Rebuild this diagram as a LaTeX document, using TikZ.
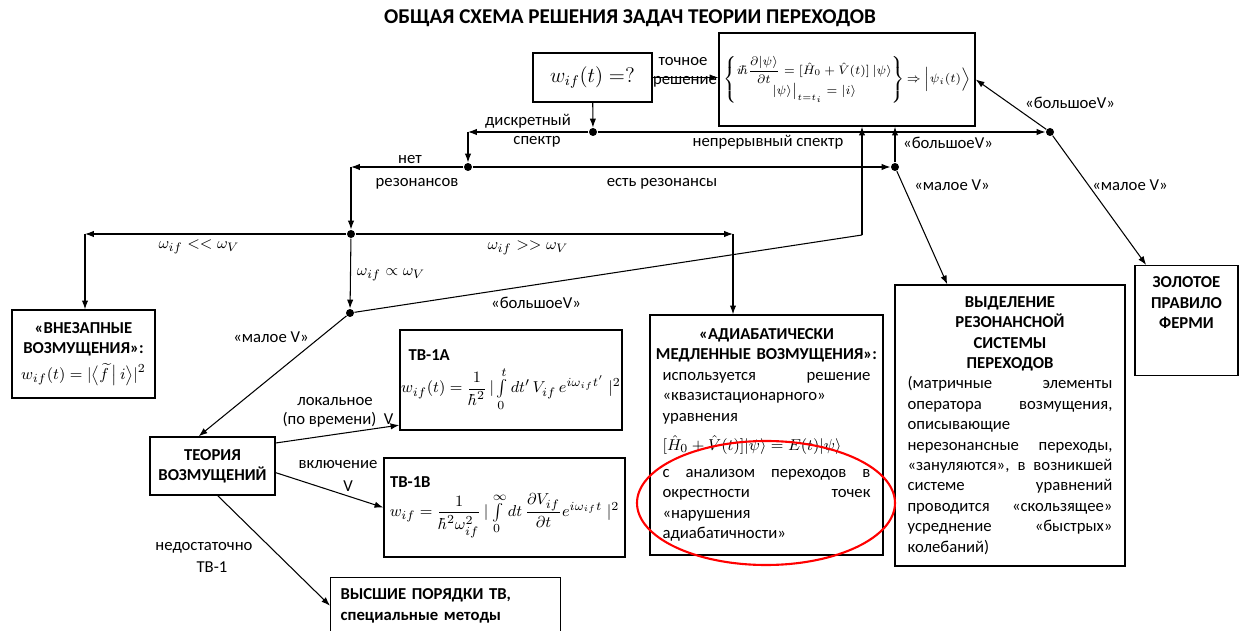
\documentclass[tikz,border=0pt]{standalone}
\usepackage{amsmath,amssymb}
\usepackage{fontspec}
\setmainfont{Carlito}
\usetikzlibrary{arrows.meta}
\newcommand\jrow[1]{\makebox[\linewidth][s]{\spaceskip=0.3333em plus 1fil\relax #1}}
\newcommand\crow[1]{\makebox[\linewidth][c]{#1}}

\begin{document}
\fontsize{9.5}{11.6}\selectfont
\begin{tikzpicture}[x=0.02cm,y=-0.02cm,line width=0.6pt,
  >={Latex[length=5pt,width=3.6pt]},
  box/.style={draw,line width=0.8pt,inner sep=0pt},
  dot/.style={circle,fill,inner sep=0pt,minimum size=0.16cm}]
\useasboundingbox (0,0) rectangle (1248,631);
\path
(630,18) node[font=\bfseries\fontsize{12}{14}\selectfont] (title) {ОБЩАЯ СХЕМА РЕШЕНИЯ ЗАДАЧ ТЕОРИИ ПЕРЕХОДОВ}
(592.5,77.5) node[box,minimum width=2.38cm,minimum height=0.98cm,font=\large] (wif) {$w_{if}(t)=?$}
(847,79.5) node[box,minimum width=5.12cm,minimum height=1.86cm,font=\fontsize{7.4}{9}\selectfont] (schr) {$\left\{\begin{array}{@{}c@{}} i\hbar\dfrac{\partial|\psi\rangle}{\partial t}=[\hat H_0+\hat V(t)]\,|\psi\rangle\\[1pt] |\psi\rangle\big|_{t=t_i}=|i\rangle\end{array}\right\}\!\Rightarrow\Bigl|\psi_i(t)\Bigr\rangle$}
(593,132) node[dot] (dspec) {}
(1050,132) node[dot] (dcont) {}
(468,167) node[dot] (dres) {}
(895,167) node[dot] (dyes) {}
(351,234) node[dot] (domega) {}
(350,313) node[dot] (dprop) {}
(468,132) coordinate (kdisc)
(351,167) coordinate (kno)
(85,234) coordinate (ksud)
(733,234) coordinate (kadia)
(862,235) coordinate (kbig)
(83.5,354) node[box,minimum width=2.86cm,minimum height=1.76cm,align=center] (sudden) {\textbf{«ВНЕЗАПНЫЕ}\\\textbf{ВОЗМУЩЕНИЯ»:}\\[3pt]$w_{if}(t)=|\bigl\langle\widetilde{f}\,\big|\,i\bigr\rangle|^2$}
(212.5,466) node[box,minimum width=2.5cm,minimum height=1.16cm,align=center,font=\bfseries] (pt) {ТЕОРИЯ\\ВОЗМУЩЕНИЙ}
(511,380) node[box,minimum width=4.44cm,minimum height=2cm,text width=4.1cm,align=left] (tva) {\textbf{ТВ-1А}\\[3pt]\crow{$w_{if}(t)=\dfrac{1}{\hbar^2}\,|\int\limits_0^t dt'\,V_{if}\,e^{i\omega_{if}t'}\;|^2$}}
(504.5,507.5) node[box,minimum width=4.82cm,minimum height=1.98cm,text width=4.58cm,align=left] (tvb) {\textbf{ТВ-1В}\\[2pt]\crow{$w_{if}=\dfrac{1}{\hbar^2\omega_{if}^2}\,|\int\limits_0^\infty dt\,\dfrac{\partial V_{if}}{\partial t}e^{i\omega_{if}t}\;|^2$}}
(330,577) node[box,anchor=north west,minimum width=4.6cm,minimum height=1.12cm,text width=4.2cm,align=left,font=\bfseries] (high) {ВЫСШИЕ ПОРЯДКИ ТВ,\\специальные методы}
(766.5,435) node[box,minimum width=4.66cm,minimum height=4.8cm,text width=4.16cm,align=left] (adia) {\crow{\bfseries «АДИАБАТИЧЕСКИ}\\\crow{\bfseries МЕДЛЕННЫЕ ВОЗМУЩЕНИЯ»:}\\\jrow{используется решение}\\«квазистационарного»\\уравнения\\[5pt]$[\hat H_0+\hat V(t)]|\psi\rangle=E(t)|\psi\rangle$\\[4pt]\jrow{с анализом переходов в}\\\jrow{окрестности точек}\\«нарушения\\адиабатичности»}
(1010,425.5) node[box,minimum width=4.6cm,minimum height=5.62cm,text width=4.1cm,align=left] (resv) {\crow{\bfseries ВЫДЕЛЕНИЕ}\\\crow{\bfseries РЕЗОНАНСНОЙ}\\\crow{\bfseries СИСТЕМЫ}\\\crow{\bfseries ПЕРЕХОДОВ}\\\jrow{(матричные элементы}\\\jrow{оператора возмущения,}\\описывающие\\\jrow{нерезонансные переходы,}\\\jrow{«зануляются», в возникшей}\\\jrow{системе уравнений}\\\jrow{проводится «скользящее»}\\\jrow{усреднение «быстрых»}\\колебаний)}
(1186.5,265) node[box,anchor=north] (gold) {\parbox[t][2.2cm][t]{2.06cm}{\vspace*{0.22cm}\centering\bfseries ЗОЛОТОЕ\\ПРАВИЛО\\ФЕРМИ}}
(683,62) node (lexact) {точное}
(685,82) node (lsol) {решение}
(528,121) node (ldisc) {дискретный}
(537,142) node (lspec) {спектр}
(768,142) node (lcont) {непрерывный спектр}
(410,160) node (lno) {нет}
(417,184) node (lres) {резонансов}
(662,184) node (lyes) {есть резонансы}
(948,143) node (lbig1) {«большоеV»}
(952,185) node (lsmall1) {«малое V»}
(1070,103) node (lbig2) {«большоеV»}
(1130,185) node (lsmall2) {«малое V»}
(199,247) node (lll) {$\omega_{if}\;{<}{<}\;\omega_V$}
(528,248) node (lgg) {$\omega_{if}\;{>}{>}\;\omega_V$}
(391,275) node (lprop) {$\omega_{if}\propto\omega_V$}
(536,303) node (lbig3) {«большоеV»}
(271,337) node (lsmall3) {«малое V»}
(335,402) node (lloc) {локальное}
(338,420) node (ltime) {(по времени)\ \ V}
(338,465) node (lon) {включение}
(348,486) node (lonv) {V}
(204,548) node (lnot) {недостаточно}
(212,567) node (ltb) {ТВ-1};
\draw[red,line width=1.2pt] (766,503) ellipse [x radius=129,y radius=62];
\draw[->] (wif) -- (dspec);
\draw[->] (wif.east) -- (wif.east -| schr.west);
\draw[->] (dspec) -- (kdisc);
\draw[->] (kdisc) -- (dres);
\draw[->] (dspec) -- (dcont);
\draw[->] (dcont) -- (schr.east);
\draw[->] (dcont) -- (gold);
\draw[->] (dres) -- (kno);
\draw[->] (kno) -- (domega);
\draw[->] (dres) -- (dyes);
\draw[->] (dyes) -- (dyes |- schr.south);
\draw[->] (dyes) -- (resv);
\draw[->] (domega) -- (ksud);
\draw[->] (ksud) -- (ksud |- sudden.north);
\draw[->] (domega) -- (kadia);
\draw[->] (kadia) -- (kadia |- adia.north);
\draw[->] (domega) -- (dprop);
\draw (dprop) -- (kbig);
\draw[->] (kbig) -- (kbig |- schr.south);
\draw[->] (dprop) -- (pt.115);
\draw[->] (pt.20) -- (tva.202);
\draw[->] (pt.-6) -- (tvb.west);
\draw[->] (pt.-80) -- (high.west);
\end{tikzpicture}
\end{document}
